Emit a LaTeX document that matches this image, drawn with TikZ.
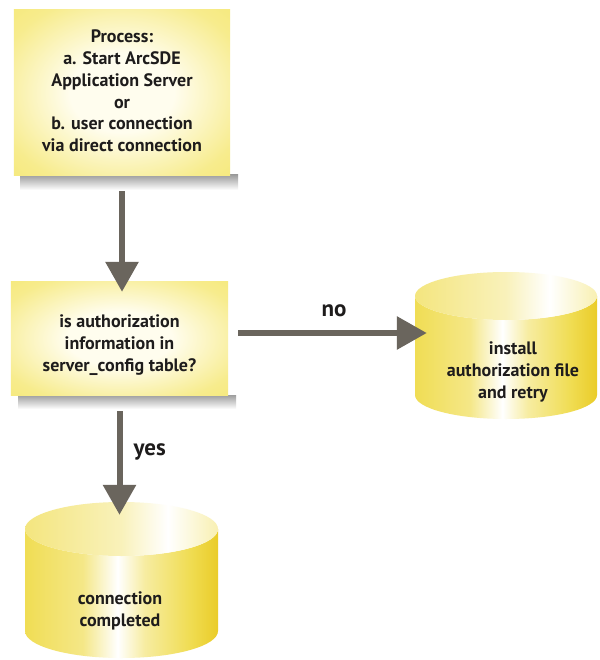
\documentclass[tikz,border=0pt]{standalone}
\usepackage{fontspec}
\setmainfont{PT Sans}
\usetikzlibrary{arrows.meta}
\definecolor{boxY}{RGB}{245,231,112}
\definecolor{boxC}{RGB}{255,253,238}
\definecolor{cylY}{RGB}{240,221,84}
\definecolor{cylD}{RGB}{234,204,40}
\definecolor{arrG}{RGB}{106,101,93}
\definecolor{txt}{RGB}{30,28,28}
\pgfdeclarehorizontalshading{cylbody}{100bp}{color(0bp)=(cylY); color(25bp)=(cylY); color(40bp)=(cylY!70!white); color(49bp)=(white); color(56bp)=(cylY!55!white); color(67.5bp)=(cylY); color(75bp)=(cylD); color(100bp)=(cylD)}
\pgfdeclarehorizontalshading{cyltop}{100bp}{color(0bp)=(cylY!75!white); color(25bp)=(cylY!75!white); color(50bp)=(cylY!40!white); color(62bp)=(white); color(75bp)=(cylY!45!white); color(100bp)=(cylY!45!white)}
\pgfdeclareradialshading{boxrad}{\pgfpoint{0bp}{0bp}}{color(0bp)=(boxC); color(12bp)=(boxC); color(30bp)=(boxY!80!white); color(42bp)=(boxY); color(50bp)=(boxY)}
\tikzset{
  boxshape/.style={rectangle, draw=none, fill=none},
  label text/.style={text=txt, font=\fontsize{18}{21.8}\selectfont\bfseries, align=center},
  edge text/.style={text=txt, font=\fontsize{23}{26}\selectfont\bfseries},
  arr/.style={draw=arrG, line width=6pt, -{Triangle[width=32pt,length=30pt]}},
  hold/.style={rectangle, draw=none, fill=none, inner sep=0pt},
}
\begin{document}
\begin{tikzpicture}[x=1pt,y=-1pt]
\useasboundingbox[fill=white] (0,0) rectangle (599,660);
% shadows
\shade[top color=black!38, bottom color=white] (20,175) rectangle (238,190);
\shade[top color=black!38, bottom color=white] (18,395) rectangle (236,409);
% boxes
\node[boxshape, minimum width=216pt, minimum height=165pt] (b1) at (122,92.5) {};
\node[boxshape, minimum width=217pt, minimum height=113pt] (b2) at (119.5,338.5) {};
\shade[shading=boxrad] (b1.south west) rectangle (b1.north east);
\shade[shading=boxrad] (b2.south west) rectangle (b2.north east);
\node[label text] (t1) at (122,91) {Process:\\a. Start ArcSDE\\Application Server\\or\\b. user connection\\via direct connection};
\node[label text] (t2) at (119.5,345) {is authorization\\information in\\server\_config table?};
% cylinder 1
\shade[shading=cylbody] (415,296) -- (415,395) arc[start angle=180,end angle=0,x radius=91,y radius=24] -- (597,296) arc[start angle=0,end angle=180,x radius=91,y radius=24] -- cycle;
\shade[shading=cyltop] (506,296) ellipse[x radius=91, y radius=24];
\node[hold, minimum width=182pt, minimum height=147pt] (c1) at (506,345.5) {};
\node[label text] (t3) at (513,372) {install\\authorization file\\and retry};
% cylinder 2
\shade[shading=cylbody] (25,529) -- (25,631) arc[start angle=180,end angle=0,x radius=96.5,y radius=27] -- (218,529) arc[start angle=0,end angle=180,x radius=96.5,y radius=27] -- cycle;
\shade[shading=cyltop] (121.5,529) ellipse[x radius=96.5, y radius=27];
\node[hold, minimum width=193pt, minimum height=156pt] (c2) at (121.5,580) {};
\node[label text] (t4) at (120,611) {connection\\completed};
% connectors
\draw[arr, shorten <=16pt, shorten >=-10pt] (b1.south) -- (b1.south |- b2.north);
\coordinate (ns) at ([yshift=5.5pt]b2.east);
\draw[arr, shorten <=10pt, shorten >=-12pt] (ns) -- (ns -| c1.west);
\draw[arr, shorten <=16pt, shorten >=-13pt] (b2.south) -- (b2.south |- c2.north);
\node[edge text] (lno) at (334,311) {no};
\node[edge text, anchor=west] (lyes) at (130,452) {yes};
\end{tikzpicture}
\end{document}
